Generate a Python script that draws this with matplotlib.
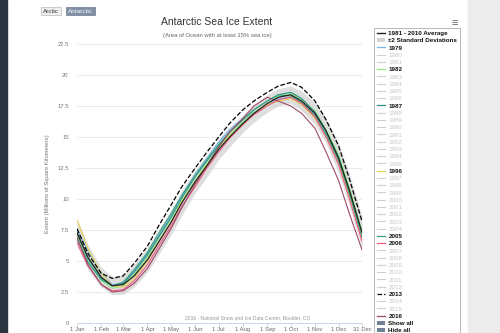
import numpy as np
import matplotlib.pyplot as plt
from matplotlib.lines import Line2D
from matplotlib.patches import Patch, Rectangle

plt.rcParams['font.family'] = ['Liberation Sans', 'DejaVu Sans']

# day of year: 1st and 15th of each month, plus 31 Dec
doy = [0, 14, 31, 45, 59, 73, 90, 104, 120, 134, 151, 165, 181, 195,
       212, 226, 243, 257, 273, 287, 304, 318, 334, 348, 364]

month_ticks = [0, 31, 59, 90, 120, 151, 181, 212, 243, 273, 304, 334, 364]
month_labels = ['1 Jan', '1 Feb', '1 Mar', '1 Apr', '1 May', '1 Jun', '1 Jul',
                '1 Aug', '1 Sep', '1 Oct', '1 Nov', '1 Dec', '31 Dec']

# extent, millions of km^2
avg_8110 = [7.3, 5.3, 3.7, 3.0, 3.1, 3.8, 5.1, 6.5, 8.1, 9.7, 11.4, 12.6, 14.0,
            15.0, 16.1, 16.9, 17.7, 18.2, 18.4, 17.9, 16.9, 15.5, 13.3, 10.7, 7.3]
sd_upper = [8.4, 6.3, 4.5, 3.7, 3.9, 4.7, 6.1, 7.5, 9.1, 10.7, 12.3, 13.5, 14.8,
            15.8, 16.8, 17.6, 18.4, 18.9, 19.1, 18.7, 17.8, 16.5, 14.5, 12.0, 8.6]
sd_lower = [6.2, 4.3, 2.9, 2.3, 2.3, 2.9, 4.1, 5.5, 7.1, 8.7, 10.5, 11.7, 13.2,
            14.2, 15.4, 16.2, 17.0, 17.5, 17.7, 17.1, 16.0, 14.5, 12.1, 9.4, 6.0]

y1979 = [7.6, 5.8, 4.0, 3.1, 3.2, 4.2, 5.6, 7.0, 8.7, 10.3, 12.0, 13.2, 14.6,
         15.6, 16.5, 17.0, 17.6, 18.1, 18.2, 17.7, 16.8, 15.3, 13.0, 10.4, 7.0]
y1982 = [7.0, 5.0, 3.4, 2.8, 3.0, 3.9, 5.3, 6.8, 8.4, 9.9, 11.5, 12.8, 14.1,
         15.2, 16.2, 17.0, 17.6, 18.3, 18.5, 18.0, 17.1, 15.6, 13.6, 10.9, 7.4]
y1987 = [6.8, 4.9, 3.5, 3.0, 3.2, 4.1, 5.5, 6.9, 8.5, 10.1, 11.8, 13.0, 14.3,
         15.4, 16.4, 17.2, 17.9, 18.4, 18.6, 18.1, 17.0, 15.5, 13.4, 10.6, 7.2]
y1996 = [8.3, 6.0, 4.0, 3.0, 2.9, 3.6, 5.0, 6.5, 8.1, 9.8, 11.4, 12.7, 14.0,
         15.1, 16.0, 16.9, 17.6, 17.9, 18.1, 17.6, 16.5, 15.1, 13.0, 10.2, 7.0]
y2005 = [7.2, 5.2, 3.6, 3.0, 3.3, 4.3, 5.7, 7.2, 8.8, 10.3, 11.9, 13.1, 14.4,
         15.4, 16.4, 17.2, 17.9, 18.4, 18.3, 17.8, 16.7, 15.2, 13.1, 10.4, 6.9]
y2006 = [6.5, 4.6, 3.1, 2.6, 2.7, 3.4, 4.7, 6.2, 7.8, 9.4, 11.0, 12.4, 13.8,
         14.9, 16.0, 16.8, 17.5, 18.0, 18.2, 17.7, 16.6, 15.0, 12.8, 10.0, 6.6]
y2013 = [7.6, 5.6, 4.0, 3.6, 3.8, 4.8, 6.2, 7.8, 9.5, 11.0, 12.5, 13.7, 15.0,
         16.1, 17.2, 17.9, 18.6, 19.1, 19.4, 19.0, 17.9, 16.4, 14.3, 11.6, 8.2]
y2016 = [6.9, 4.7, 3.1, 2.5, 2.6, 3.2, 4.4, 5.9, 7.6, 9.3, 11.2, 12.6, 14.2,
         15.4, 16.5, 17.5, 18.2, 17.9, 17.5, 16.9, 15.7, 13.8, 11.5, 8.8, 5.9]

shown = {
    1979: (y1979, '#7cb5ec', '-'),
    1982: (y1982, '#90ed7d', '-'),
    1987: (y1987, '#2b908f', '-'),
    1996: (y1996, '#e4d354', '-'),
    2005: (y2005, '#3aa37f', '-'),
    2006: (y2006, '#f15c80', '-'),
    2013: (y2013, '#000000', '--'),
    2016: (y2016, '#9c4a66', '-'),
}

fig = plt.figure(figsize=(5, 3.33), dpi=100)
fig.patch.set_facecolor('white')

# page chrome: dark strip on the left, scroll area on the right
fig.patches.append(Rectangle((0, 0), 0.014, 1, transform=fig.transFigure,
                             color='#2c3440', zorder=0))
fig.patches.append(Rectangle((0.935, 0), 0.065, 1, transform=fig.transFigure,
                             color='#ececec', zorder=0))

ax = fig.add_axes([0.154, 0.030, 0.570, 0.838])

ax.fill_between(doy, sd_lower, sd_upper, color='#d4d4d4', alpha=0.75, lw=0, zorder=1)
for yr, (vals, col, ls) in shown.items():
    ax.plot(doy, vals, color=col, ls=ls, lw=0.8 if ls == '-' else 0.9, zorder=3)
ax.plot(doy, avg_8110, color='#222222', lw=0.9, zorder=4)

ax.set_xlim(0, 364)
ax.set_ylim(0, 22.5)
ax.set_yticks(np.arange(0, 22.6, 2.5))
ax.set_yticklabels(['0', '2.5', '5', '7.5', '10', '12.5', '15', '17.5', '20', '22.5'])
ax.set_xticks(month_ticks)
ax.set_xticklabels(month_labels)
ax.tick_params(axis='y', length=0, labelsize=4.2, labelcolor='#777777', pad=6)
ax.tick_params(axis='x', length=3, width=0.5, color='#c0d0e0', labelsize=4.2,
               labelcolor='#666666', pad=0)
ax.grid(axis='y', color='#e6e6e6', lw=0.6)
ax.set_axisbelow(True)
for s in ['top', 'right', 'left']:
    ax.spines[s].set_visible(False)
ax.spines['bottom'].set_color('#c0d0e0')
ax.spines['bottom'].set_linewidth(0.6)

ax.set_ylabel('Extent (Millions of Square Kilometers)', fontsize=4.2,
              color='#777777', labelpad=5)

fig.text(0.434, 0.934, 'Antarctic Sea Ice Extent', ha='center', va='center',
         fontsize=7.5, color='#333333')
fig.text(0.434, 0.893, '(Area of Ocean with at least 15% sea ice)', ha='center',
         va='center', fontsize=4.2, color='#666666')
ax.text(0.6, 0.01, '2016 - National Snow and Ice Data Center, Boulder, CO',
        transform=ax.transAxes, ha='center', va='bottom', fontsize=3.6,
        color='#999999')

# Arctic / Antarctic switch buttons
fig.text(0.102, 0.966, 'Arctic', ha='center', va='center', fontsize=4.6,
         color='#333333',
         bbox=dict(boxstyle='square,pad=0.25', fc='#eeeeee', ec='#bbbbbb', lw=0.5))
fig.text(0.161, 0.966, 'Antarctic', ha='center', va='center', fontsize=4.6,
         color='#f4f6f8',
         bbox=dict(boxstyle='square,pad=0.25', fc='#7f90a6', ec='#6d7d92', lw=0.5))
fig.text(0.91, 0.93, '\u2261', ha='center', va='center', fontsize=8, color='#666666')

# legend
handles = [Line2D([], [], color='#222222', lw=1.0),
           Patch(fc='#d4d4d4', ec='none')]
labels = ['1981 - 2010 Average', '\u00b12 Standard Deviations']
for yr in range(1979, 2017):
    if yr in shown:
        vals, col, ls = shown[yr]
        handles.append(Line2D([], [], color=col, ls=ls, lw=0.9))
    else:
        handles.append(Line2D([], [], color='#d0d0d0', lw=0.8))
    labels.append(str(yr))
handles += [Patch(fc='#6f8299', ec='none'), Patch(fc='#6f8299', ec='none')]
labels += ['Show all', 'Hide all']

leg = fig.legend(handles, labels, loc='upper left', bbox_to_anchor=(0.748, 0.915),
                 bbox_transform=fig.transFigure, fontsize=4.5, frameon=True,
                 fancybox=False, edgecolor='#999999', labelspacing=0.30,
                 handlelength=1.3, handleheight=0.7, handletextpad=0.6,
                 borderpad=0.4, borderaxespad=0)
leg.get_frame().set_linewidth(0.6)
for txt in leg.get_texts():
    t = txt.get_text()
    if t.isdigit() and int(t) not in shown:
        txt.set_color('#c8c8c8')
    else:
        txt.set_color('#111111')
        txt.set_fontweight('bold')

fig.savefig('out.png', dpi=100)
